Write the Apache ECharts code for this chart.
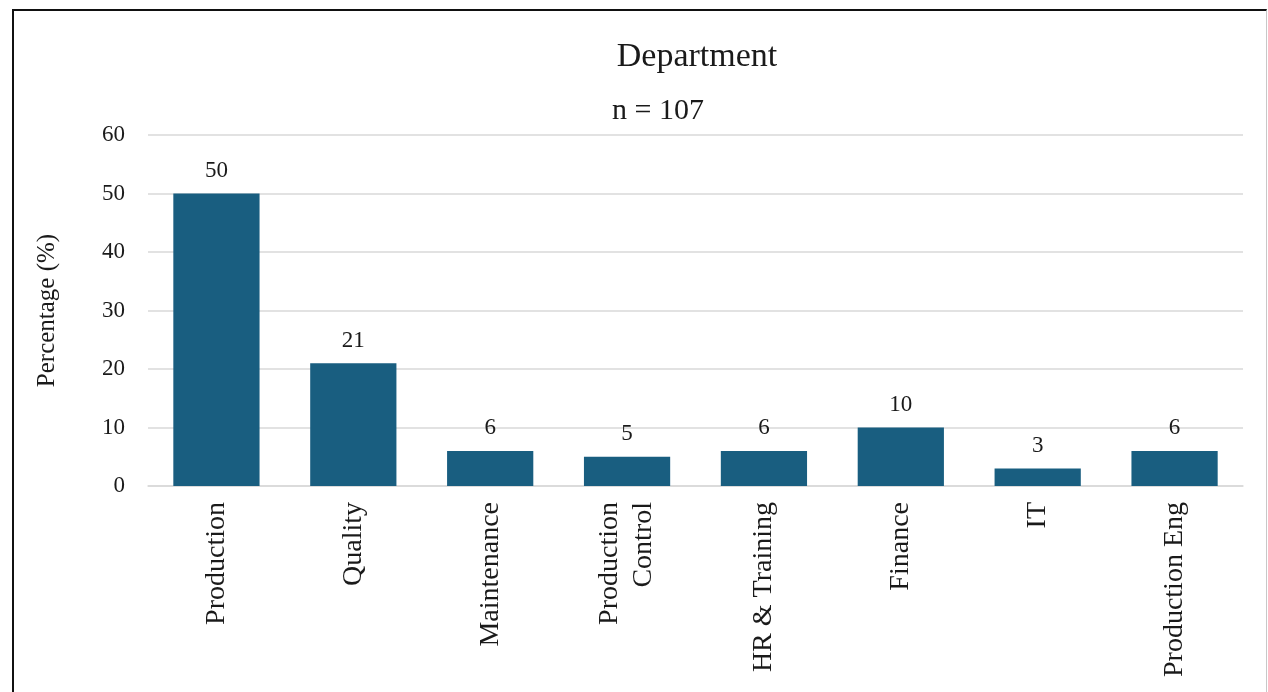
<!DOCTYPE html>
<html>
<head>
<meta charset="utf-8">
<script src="https://cdn.jsdelivr.net/npm/echarts@6/dist/echarts.min.js"></script>
<style>
  html, body { margin: 0; padding: 0; background: #fff; overflow: hidden; }
  #chart { position: absolute; left: 0; top: 0; width: 1268px; height: 692px; }
  #frame {
    position: absolute; left: 12px; top: 9px; width: 1252px; height: 700px;
    border-top: 2px solid #111; border-left: 2px solid #111; border-right: 1px solid #c8c8c8;
    pointer-events: none;
  }
</style>
</head>
<body>
<div id="chart"></div>
<div id="frame"></div>
<script>
// Share of respondents by department (%)
const departments = ['Production', 'Quality', 'Maintenance', 'Production\nControl', 'HR & Training', 'Finance', 'IT', 'Production Eng'];
const percentages = [50, 21, 6, 5, 6, 10, 3, 6];
const yTicks = { min: 0, max: 60, interval: 10 };
const titleText = 'Department';
const subtitleText = 'n = 107';

const serif = '"Liberation Serif", "Times New Roman", serif';
const ink = '#1a1a1a';
const chart = echarts.init(document.getElementById('chart'), null, { renderer: 'canvas' });

chart.setOption({
  backgroundColor: '#ffffff',
  animation: false,
  title: [
    {
      text: titleText,
      left: 697,
      textAlign: 'center',
      top: 40,
      padding: 0,
      textStyle: { fontFamily: serif, fontSize: 34, fontWeight: 'normal', color: ink }
    },
    {
      text: subtitleText,
      left: 612,
      top: 96,
      padding: 0,
      textStyle: { fontFamily: serif, fontSize: 30, fontWeight: 'normal', color: ink }
    }
  ],
  grid: { left: 148, right: 25, top: 135, bottom: 206, containLabel: false },
  xAxis: {
    type: 'category',
    data: departments,
    axisLine: { show: true, lineStyle: { color: '#d9d9d9', width: 1.5 } },
    axisTick: { show: false },
    axisLabel: {
      rotate: 90,
      margin: 16,
      fontFamily: serif,
      fontSize: 28,
      color: ink,
      lineHeight: 34,
      interval: 0
    }
  },
  yAxis: {
    type: 'value',
    min: yTicks.min,
    max: yTicks.max,
    interval: yTicks.interval,
    name: 'Percentage (%)',
    nameLocation: 'middle',
    nameGap: 88,
    nameTextStyle: { fontFamily: serif, fontSize: 25, color: ink },
    axisLine: { show: false },
    axisTick: { show: false },
    splitLine: { lineStyle: { color: '#d9d9d9', width: 1.5 } },
    axisLabel: { margin: 23, fontFamily: serif, fontSize: 23, color: ink }
  },
  series: [{
    type: 'bar',
    data: percentages,
    barWidth: '63%',
    itemStyle: { color: '#195e80' },
    label: {
      show: true,
      position: 'top',
      distance: 11,
      fontFamily: serif,
      fontSize: 23,
      color: ink
    }
  }]
});
</script>
</body>
</html>
